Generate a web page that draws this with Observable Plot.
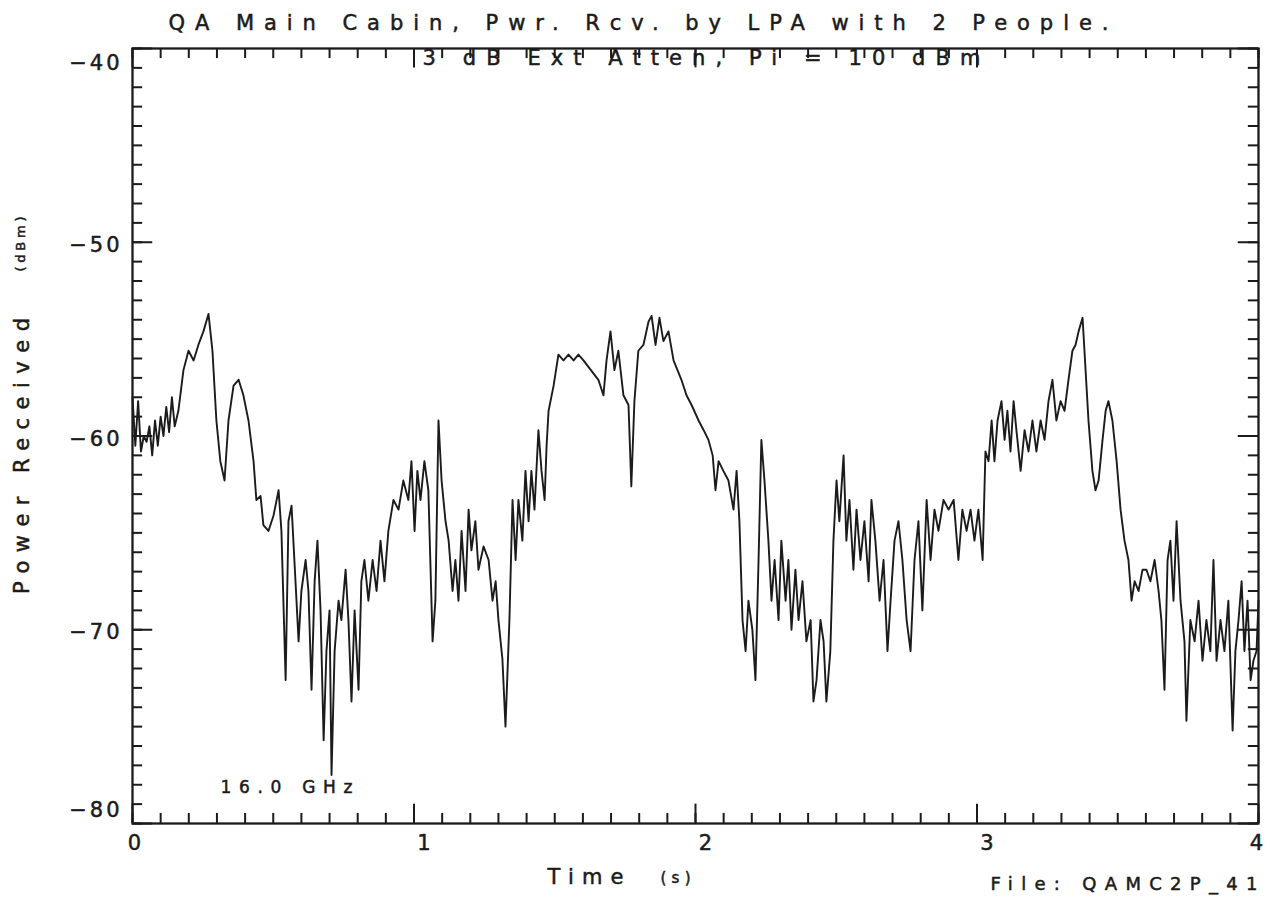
<!DOCTYPE html>
<html>
<head>
<meta charset="utf-8">
<script src="https://cdn.jsdelivr.net/npm/d3@7"></script>
<script src="https://cdn.jsdelivr.net/npm/@observablehq/plot@0.6"></script>
<style>
  html, body { margin: 0; padding: 0; background: #fff; }
  #chart svg text { font-family: "DejaVu Sans", sans-serif; }
</style>
</head>
<body>
<div id="chart"></div>
<script>
// Received power trace (dBm) against time (s)
const time = [0.000,0.010,0.020,0.030,0.040,0.050,0.060,0.070,0.080,0.090,0.100,0.110,0.120,0.130,0.140,0.150,0.163,0.181,0.199,0.217,0.234,0.252,0.270,0.284,0.298,0.312,0.327,0.341,0.359,0.377,0.394,0.412,0.430,0.440,0.455,0.465,0.483,0.501,0.519,0.529,0.544,0.554,0.565,0.579,0.590,0.600,0.615,0.625,0.636,0.647,0.657,0.668,0.679,0.689,0.700,0.707,0.718,0.732,0.742,0.757,0.767,0.778,0.789,0.803,0.813,0.824,0.838,0.853,0.867,0.881,0.895,0.909,0.927,0.945,0.962,0.980,0.991,1.002,1.012,1.023,1.037,1.051,1.066,1.076,1.087,1.098,1.112,1.123,1.137,1.147,1.158,1.169,1.183,1.194,1.204,1.218,1.229,1.247,1.265,1.279,1.290,1.300,1.314,1.325,1.339,1.350,1.361,1.371,1.385,1.396,1.407,1.417,1.428,1.442,1.453,1.464,1.471,1.478,1.496,1.513,1.531,1.549,1.567,1.584,1.602,1.655,1.673,1.684,1.698,1.712,1.726,1.744,1.762,1.772,1.783,1.797,1.815,1.833,1.844,1.858,1.872,1.886,1.904,1.922,1.950,1.968,1.986,2.011,2.029,2.046,2.061,2.071,2.082,2.099,2.117,2.135,2.146,2.156,2.167,2.178,2.188,2.202,2.213,2.224,2.234,2.245,2.259,2.270,2.281,2.295,2.305,2.320,2.330,2.341,2.355,2.366,2.380,2.394,2.409,2.419,2.430,2.444,2.455,2.465,2.479,2.490,2.501,2.511,2.526,2.536,2.547,2.561,2.572,2.586,2.600,2.615,2.625,2.639,2.654,2.668,2.682,2.693,2.707,2.721,2.735,2.750,2.764,2.778,2.792,2.806,2.821,2.835,2.849,2.863,2.881,2.899,2.917,2.934,2.948,2.963,2.977,2.991,3.005,3.020,3.030,3.041,3.052,3.062,3.073,3.087,3.098,3.108,3.119,3.130,3.140,3.155,3.169,3.183,3.197,3.211,3.226,3.240,3.254,3.268,3.282,3.297,3.311,3.325,3.339,3.350,3.361,3.375,3.396,3.410,3.421,3.432,3.446,3.457,3.467,3.481,3.496,3.510,3.524,3.538,3.549,3.560,3.574,3.588,3.602,3.616,3.631,3.645,3.655,3.666,3.677,3.687,3.698,3.709,3.723,3.737,3.744,3.758,3.773,3.787,3.801,3.815,3.829,3.840,3.851,3.865,3.879,3.893,3.908,3.918,3.929,3.940,3.950,3.961,3.972,3.982,3.993,4.000];
const power = [-58.0,-60.5,-58.2,-60.8,-60.0,-60.3,-59.5,-61.0,-59.2,-60.5,-59.0,-60.0,-58.5,-59.8,-58.0,-59.5,-58.7,-56.6,-55.6,-56.1,-55.3,-54.6,-53.7,-55.6,-59.2,-61.3,-62.3,-59.2,-57.4,-57.1,-57.9,-59.2,-61.3,-63.3,-63.1,-64.6,-64.9,-64.1,-62.8,-64.9,-72.6,-64.4,-63.6,-67.5,-70.6,-68.0,-66.4,-68.0,-73.1,-67.5,-65.4,-69.0,-75.7,-71.1,-69.0,-77.5,-71.1,-68.5,-69.5,-66.9,-69.5,-73.7,-69.0,-73.1,-67.5,-66.4,-68.5,-66.4,-68.0,-65.4,-67.5,-64.9,-63.3,-63.8,-62.3,-63.3,-61.3,-64.9,-61.8,-63.3,-61.3,-62.8,-70.6,-68.5,-59.2,-62.3,-64.4,-65.4,-68.0,-66.4,-68.5,-64.9,-68.0,-63.8,-65.9,-64.4,-66.9,-65.7,-66.4,-68.5,-67.5,-69.5,-71.5,-75.0,-69.5,-63.3,-66.4,-63.3,-65.4,-61.8,-64.4,-61.8,-63.8,-59.7,-61.8,-63.3,-60.5,-58.7,-57.4,-55.8,-56.1,-55.8,-56.1,-55.8,-56.1,-57.1,-57.9,-56.1,-54.6,-56.6,-55.6,-57.9,-58.4,-62.6,-58.2,-55.6,-55.3,-54.1,-53.8,-55.3,-53.9,-55.1,-54.6,-56.1,-57.1,-57.9,-58.4,-59.2,-59.7,-60.2,-61.0,-62.8,-61.3,-61.8,-62.3,-63.8,-61.8,-64.4,-69.5,-71.1,-68.5,-70.0,-72.6,-66.4,-60.2,-62.3,-65.4,-68.5,-66.4,-69.5,-65.4,-68.5,-66.4,-70.0,-66.9,-69.5,-67.5,-70.6,-69.5,-73.7,-72.6,-69.5,-70.6,-73.7,-71.1,-65.4,-62.3,-64.4,-61.0,-65.4,-63.3,-66.9,-63.8,-66.4,-64.4,-67.5,-63.3,-65.4,-68.5,-66.4,-71.1,-68.5,-65.4,-64.4,-66.4,-69.5,-71.1,-66.4,-64.4,-69.0,-63.3,-66.4,-63.8,-64.9,-63.3,-63.8,-63.3,-66.4,-63.8,-64.9,-63.8,-65.4,-63.8,-66.4,-60.8,-61.3,-59.2,-61.3,-59.2,-58.2,-60.2,-58.7,-60.8,-58.2,-59.7,-61.8,-59.7,-60.8,-59.2,-60.8,-59.2,-60.2,-58.2,-57.1,-59.2,-58.2,-58.7,-57.1,-55.6,-55.3,-54.6,-53.9,-59.2,-61.8,-62.8,-62.3,-60.2,-58.7,-58.2,-59.2,-61.3,-63.8,-65.4,-66.4,-68.5,-67.5,-68.0,-66.9,-66.9,-67.5,-66.4,-68.0,-69.5,-73.1,-66.4,-65.4,-68.5,-64.4,-68.5,-70.6,-74.7,-69.5,-70.6,-68.5,-71.6,-69.5,-71.1,-66.4,-71.6,-69.5,-71.1,-68.5,-75.2,-71.1,-69.5,-67.5,-71.1,-68.5,-72.6,-71.6,-71.1,-68.5];

const xTicks = [0, 1, 2, 3, 4];
const yTicks = [-40, -50, -60, -70, -80];
const chartTitle = "QA Main Cabin, Pwr. Rcv. by LPA with 2 People.";
const conditions = "3 dB Ext Atten, Pi = 10 dBm";
const frequency = "16.0 GHz";
const xLabel = "Time";
const xUnit = "(s)";
const yLabel = "Power Received";
const yUnit = "(dBm)";
const fileName = "File: QAMC2P_41";

const samples = time.map((t, i) => ({t, p: power[i]}));
const minorX = d3.range(0, 41).map(i => i / 10);
const minorY = d3.range(-80, -39);
const xDomain = [0, 4];
const yDomain = [-80, -40];

const ink = "#1b1b1b";
const fmtY = d => "\u2212" + Math.abs(d);

// inward ticks, lengths given in data units of the perpendicular axis
const tickX = (values, yEdge, len) =>
  Plot.ruleX(values, {x: d => d, y1: yEdge, y2: yEdge + len, stroke: ink, strokeWidth: 2});
const tickY = (values, xEdge, len) =>
  Plot.ruleY(values, {y: d => d, x1: xEdge, x2: xEdge + len, stroke: ink, strokeWidth: 2});

const chart = Plot.plot({
  width: 1270,
  height: 914,
  marginLeft: 132,
  marginRight: 12,
  marginTop: 48,
  marginBottom: 91,
  x: {domain: xDomain, axis: null},
  y: {domain: yDomain, axis: null},
  style: {background: "#fff", color: ink, fontFamily: "DejaVu Sans"},
  marks: [
    tickX(minorX, yDomain[0], 0.52),
    tickX(xTicks, yDomain[0], 1.0),
    tickX(minorX, yDomain[1], -0.52),
    tickX(xTicks, yDomain[1], -1.0),
    tickY(minorY, xDomain[0], 0.036),
    tickY(yTicks, xDomain[0], 0.072),
    tickY(minorY, xDomain[1], -0.036),
    tickY(yTicks, xDomain[1], -0.072),
    Plot.line(samples, {x: "t", y: "p", stroke: ink, strokeWidth: 1.9, strokeLinejoin: "round"}),
    Plot.frame({stroke: ink, strokeWidth: 2.3}),
    // y tick labels (the end labels sit inside the frame)
    Plot.text(yTicks.filter(d => d > -80 && d < -40), {y: d => d, frameAnchor: "left", textAnchor: "end", lineAnchor: "middle", dx: -10, dy: 3, text: fmtY, fontSize: 21, fill: ink}),
    Plot.text([-40], {y: d => d, frameAnchor: "left", textAnchor: "end", lineAnchor: "middle", dx: -10, dy: 15, text: fmtY, fontSize: 21, fill: ink}),
    Plot.text([-80], {y: d => d, frameAnchor: "left", textAnchor: "end", lineAnchor: "middle", dx: -10, dy: -13, text: fmtY, fontSize: 21, fill: ink}),
    // x tick labels
    Plot.text(xTicks.filter(d => d > 0 && d < 4), {x: d => d, frameAnchor: "bottom", lineAnchor: "middle", dx: 10, dy: 20, text: d => String(d), fontSize: 21, fill: ink}),
    Plot.text([0], {x: d => d, frameAnchor: "bottom", lineAnchor: "middle", dx: 2, dy: 20, text: d => String(d), fontSize: 21, fill: ink}),
    Plot.text([4], {x: d => d, frameAnchor: "bottom", lineAnchor: "middle", dx: -2, dy: 20, text: d => String(d), fontSize: 21, fill: ink}),
    // titles and annotations
    Plot.text([chartTitle], {frameAnchor: "top-left", textAnchor: "start", lineAnchor: "middle", dx: 36, dy: -25, fontSize: 21, fill: ink}),
    Plot.text([conditions], {frameAnchor: "top-left", textAnchor: "start", lineAnchor: "middle", dx: 290, dy: 10, fontSize: 21, fill: ink}),
    Plot.text([frequency], {frameAnchor: "bottom-left", textAnchor: "start", lineAnchor: "middle", dx: 88, dy: -36, fontSize: 17, fill: ink}),
    Plot.text([xLabel], {frameAnchor: "bottom-left", textAnchor: "start", lineAnchor: "middle", dx: 415, dy: 54, fontSize: 21, fill: ink}),
    Plot.text([xUnit], {frameAnchor: "bottom-left", textAnchor: "start", lineAnchor: "middle", dx: 528, dy: 55, fontSize: 15, fill: ink}),
    Plot.text([yLabel], {frameAnchor: "left", textAnchor: "middle", lineAnchor: "middle", rotate: -90, dx: -110, dy: 20, fontSize: 21, fill: ink}),
    Plot.text([yUnit], {frameAnchor: "left", textAnchor: "middle", lineAnchor: "middle", rotate: -90, dx: -112, dy: -192, fontSize: 13, fill: ink}),
    Plot.text([fileName], {frameAnchor: "bottom-right", textAnchor: "end", lineAnchor: "middle", dx: -1, dy: 61, fontSize: 18, fill: ink})
  ]
});

document.getElementById("chart").appendChild(chart);

// plotter-style lettering: pen-weight strokes, each string stretched to its printed width
const spread = new Map([[chartTitle, 940], [conditions, 558], [frequency, 132], [xLabel, 76], [xUnit, 30], [yLabel, 276], [yUnit, 55], [fileName, 267]]);
d3.select(chart).selectAll("text").each(function () {
  const s = this.textContent;
  const t = d3.select(this).attr("stroke", ink).attr("stroke-width", 0.5);
  if (spread.has(s)) {
    t.attr("textLength", spread.get(s)).attr("lengthAdjust", "spacing");
  } else if (s.startsWith("\u2212")) {
    t.attr("letter-spacing", 3);
  }
});
</script>
</body>
</html>
